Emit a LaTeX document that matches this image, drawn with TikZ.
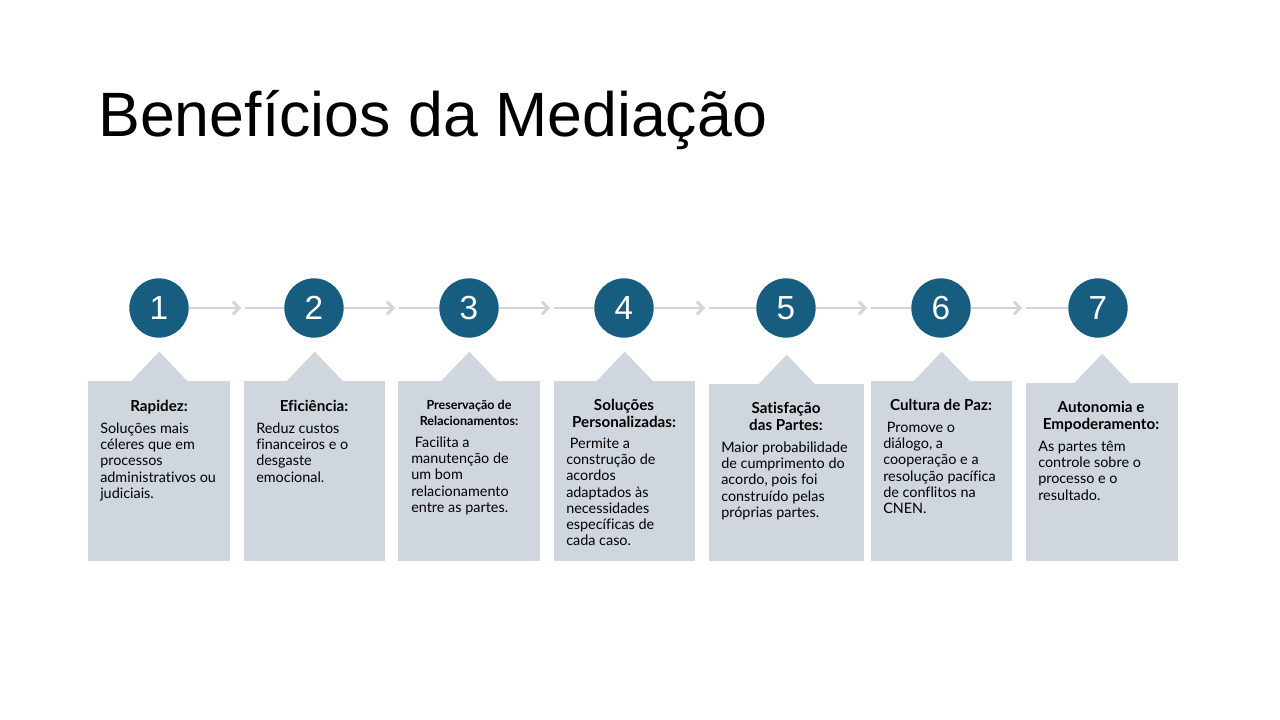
\documentclass[tikz,border=0pt]{standalone}
\usepackage{fontspec}
\setmainfont{Liberation Sans}
\newfontfamily\cardfont[Ligatures=NoCommon]{Lato}
\usetikzlibrary{arrows.meta}

\definecolor{stepblue}{RGB}{22,93,128}
\definecolor{cardgray}{RGB}{208,214,221}
\definecolor{linkgray}{RGB}{208,212,218}

\begin{document}
\begin{tikzpicture}[x=0.75pt,y=-0.75pt,
	num node/.style={circle,fill=stepblue,text=white,minimum size=44.5pt,inner sep=0pt,font=\fontsize{25}{25}\selectfont},
	card node/.style={fill=cardgray,inner sep=0pt,anchor=north west},
	head text/.style={font=\cardfont\bfseries\fontsize{11.4}{12}\selectfont,align=center,anchor=north,inner sep=0pt},
	small head/.style={head text,font=\cardfont\bfseries\fontsize{9.4}{12}\selectfont},
	body text/.style={font=\cardfont\fontsize{10.8}{12.2}\selectfont,align=left,anchor=north west,inner sep=0pt},
	link/.style={draw=linkgray,line width=2.2pt}
]
	\useasboundingbox (0,0) rectangle (1280,720);

	\node[anchor=base west,inner sep=0pt,font=\fontsize{47}{56}\selectfont] (title) at (98,137) {Benefícios da Mediação};

	% cards with their pointers
	\foreach \i/\l/\r/\t in {1/88/230/381,2/244/385/381,3/398/540/381,4/554/695/381,5/709/864/384,6/871/1012/381,7/1026/1178/383} {
		\node[card node,minimum width={(\r-\l)*0.75pt},minimum height={(561-\t)*0.75pt}] (b\i) at (\l,\t) {};
		\fill[cardgray] ([xshift=-21pt]b\i.north) -- ([yshift=22pt]b\i.north) -- ([xshift=21pt]b\i.north) -- cycle;
	}

	% numbered steps
	\foreach \i/\x in {1/159,2/314,3/469,4/624,5/786,6/941,7/1098}
		\node[num node] (c\i) at (\x,308) {\i};

	\foreach \i/\j/\m in {1/2/241,2/3/395,3/4/550,4/5/705,5/6/867,6/7/1022} {
		\coordinate (m\i) at (\m,308);
		\coordinate (n\i) at (\m+4,308);
		\draw[link,-{Straight Barb[length=4.5pt,width=9.5pt]}] (c\i) -- (m\i);
		\draw[link] (n\i) -- (c\j);
	}

	% texts
	\node[head text] (h1) at (159,399.6) {\strut Rapidez:};
	\node[body text] (t1) at (100,421.6) {\strut Soluções mais\\céleres que em\\processos\\administrativos ou\\judiciais.};

	\node[head text] (h2) at (314,399.6) {\strut Eficiência:};
	\node[body text] (t2) at (256,421.6) {\strut Reduz custos\\financeiros e o\\desgaste\\emocional.};

	\node[small head] (h3) at (469,397.8) {\strut Preservação de\\Relacionamentos:};
	\node[body text] (t3) at (411,435.6) {\strut\ Facilita a\\manutenção de\\um bom\\relacionamento\\entre as partes.};

	\node[head text] (h4) at (624,398.6) {\strut Soluções\\Personalizadas:};
	\node[body text] (t4) at (566,436.6) {\strut\ Permite a\\construção de\\acordos\\adaptados às\\necessidades\\específicas de\\cada caso.};

	\node[head text] (h5) at (786,401.6) {\strut Satisfação\\das Partes:};
	\node[body text] (t5) at (721,440.6) {\strut Maior probabilidade\\de cumprimento do\\acordo, pois foi\\construído pelas\\próprias partes.};

	\node[head text] (h6) at (941,398.6) {\strut Cultura de Paz:};
	\node[body text] (t6) at (883,420.6) {\strut\ Promove o\\diálogo, a\\cooperação e a\\resolução pacífica\\de conflitos na\\CNEN.};

	\node[head text] (h7) at (1101,400.6) {\strut Autonomia e\\Empoderamento:};
	\node[body text] (t7) at (1038,439.6) {\strut As partes têm\\controle sobre o\\processo e o\\resultado.};
\end{tikzpicture}
\end{document}
